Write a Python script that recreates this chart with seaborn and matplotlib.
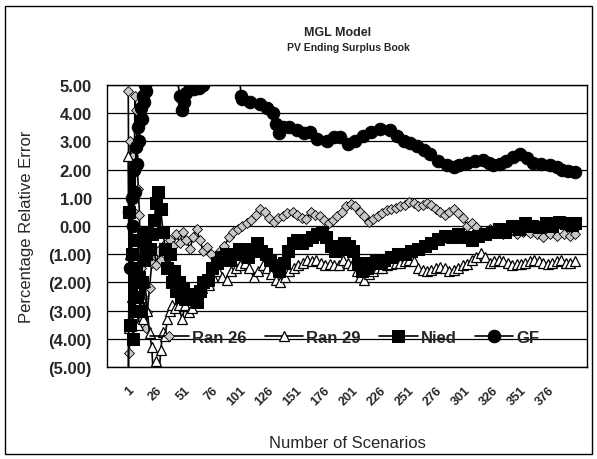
import matplotlib
matplotlib.use("Agg")
import matplotlib.pyplot as plt
import matplotlib.patches as mpatches
import pandas as pd
import seaborn as sns

# values (scenario number, percentage relative error)
ran26_x = [1, 2, 3, 4, 5, 6, 7, 8, 9, 10, 11, 12, 13, 14, 15, 16, 17, 18, 20, 22,
           24, 26, 28, 30, 32, 35, 38, 41, 44, 47, 50, 53, 56, 59, 62, 65, 68, 71, 75, 79,
           83, 87, 91, 95, 99, 103, 107, 111, 115, 119, 123, 127, 131, 135, 139, 143, 148, 152, 156, 160,
           164, 168, 172, 176, 180, 184, 188, 192, 196, 200, 204, 208, 212, 216, 220, 224, 228, 232, 236, 240,
           244, 248, 252, 256, 260, 264, 268, 272, 276, 280, 284, 288, 292, 296, 300, 304, 308, 312, 316, 320,
           324, 330, 336, 342, 348, 354, 360, 366, 372, 378, 384, 390, 396, 400]
ran26_y = [4.8, -4.5, 3.0, -1.5, 2.5, 0.5, 4.6, 4.1, 2.2, 1.3, 0.4, -1.5, -0.5, -2.5, -1.2, -3.0, -3.6, -3.05, -2.2, -1.3,
           -0.8, -1.4, -0.9, -1.2, -0.7, -0.9, -0.5, -0.7, -0.3, -0.6, -0.2, -0.5, -0.8, -0.4, -0.1, -0.5, -0.9, -0.75, -1.0, -1.2,
           -0.9, -0.7, -0.4, -0.2, -0.1, 0.0, 0.1, 0.2, 0.4, 0.6, 0.5, 0.3, 0.15, 0.3, 0.35, 0.45, 0.5, 0.4, 0.3, 0.25,
           0.5, 0.4, 0.35, 0.2, 0.1, 0.2, 0.35, 0.5, 0.7, 0.78, 0.7, 0.5, 0.35, 0.15, 0.25, 0.35, 0.45, 0.55, 0.6, 0.65,
           0.7, 0.75, 0.85, 0.8, 0.7, 0.75, 0.8, 0.75, 0.6, 0.5, 0.4, 0.5, 0.6, 0.45, 0.3, 0.0, 0.1, -0.05, -0.2, -0.25,
           -0.1, -0.2, -0.3, -0.2, -0.3, -0.2, -0.25, -0.3, -0.4, -0.3, -0.35, -0.3, -0.35, -0.3]

ran29_x = [1, 2, 3, 4, 5, 6, 7, 8, 9, 10, 12, 14, 16, 18, 20, 22, 24, 26, 28, 30,
           32, 34, 36, 38, 40, 43, 46, 49, 52, 55, 58, 61, 64, 67, 70, 73, 77, 81, 85, 89,
           93, 97, 101, 105, 109, 113, 117, 121, 125, 129, 133, 137, 141, 145, 149, 153, 157, 161, 165, 169,
           173, 177, 181, 185, 189, 193, 197, 201, 205, 208, 212, 216, 220, 224, 228, 232, 236, 240, 244, 248,
           252, 256, 260, 264, 268, 272, 276, 280, 284, 288, 292, 296, 300, 304, 308, 312, 316, 320, 324, 328,
           332, 336, 340, 344, 348, 352, 356, 360, 364, 368, 372, 376, 380, 384, 388, 392, 396, 400]
ran29_y = [2.5, -3.6, -1.0, -2.5, -1.5, -3.0, -2.0, -1.2, -2.8, -3.5, -2.5, -3.3, -2.0, -3.0, -3.8, -4.3, -5.8, -4.8, -5.6, -4.4,
           -3.75, -3.9, -3.3, -3.0, -2.8, -2.9, -2.8, -3.3, -2.8, -3.05, -2.9, -2.6, -2.35, -2.2, -2.0, -2.1, -1.8, -1.6, -1.8, -1.9,
           -1.6, -1.5, -1.4, -1.3, -1.5, -1.8, -1.6, -1.4, -1.5, -1.7, -1.9, -2.0, -1.8, -1.6, -1.5, -1.4, -1.3, -1.2, -1.25, -1.2,
           -1.3, -1.4, -1.35, -1.4, -1.4, -1.2, -1.3, -1.4, -1.6, -1.8, -1.9, -1.7, -1.6, -1.5, -1.5, -1.4, -1.35, -1.3, -1.3, -1.25,
           -1.2, -1.25, -1.5, -1.55, -1.6, -1.55, -1.5, -1.45, -1.5, -1.6, -1.55, -1.5, -1.4, -1.35, -1.2, -1.1, -0.95, -1.1, -1.3, -1.25,
           -1.2, -1.25, -1.3, -1.4, -1.35, -1.35, -1.3, -1.25, -1.2, -1.25, -1.3, -1.35, -1.3, -1.25, -1.2, -1.3, -1.3, -1.25]

nied_x = [1, 2, 3, 4, 5, 6, 7, 8, 9, 10, 11, 12, 13, 14, 15, 16, 17, 18, 20, 22,
          24, 26, 28, 30, 32, 34, 36, 38, 40, 42, 44, 46, 48, 50, 52, 55, 58, 62, 65, 68,
          72, 76, 80, 84, 88, 92, 96, 100, 104, 108, 112, 116, 120, 124, 128, 132, 136, 140, 144, 148,
          152, 156, 160, 165, 170, 174, 178, 182, 186, 190, 194, 198, 202, 206, 210, 214, 218, 222, 226, 230,
          236, 242, 248, 254, 260, 266, 272, 278, 284, 290, 296, 302, 308, 314, 320, 326, 332, 338, 344, 350,
          356, 362, 368, 374, 380, 386, 392, 398, 400]
nied_y = [-6.5, 0.5, -3.5, -1.0, -4.0, -2.0, -3.0, -1.5, -2.5, -0.5, -1.8, -3.0, -2.0, -0.3, -1.2, -0.5, -1.0, -0.2, -0.8, -0.3,
          0.2, 0.8, 1.2, 0.6, -0.2, -0.8, -1.5, -1.0, -2.0, -1.6, -2.3, -2.0, -2.5, -2.2, -2.6, -2.4, -2.5, -2.7, -2.3, -2.0,
          -1.9, -1.5, -1.3, -1.1, -1.0, -1.2, -1.0, -0.8, -0.9, -1.1, -0.8, -0.6, -0.9, -1.0, -1.2, -1.4, -1.6, -1.3, -0.9, -0.6,
          -0.5, -0.6, -0.5, -0.4, -0.3, -0.2, -0.4, -0.7, -0.9, -0.8, -0.6, -0.7, -0.9, -1.3, -1.6, -1.5, -1.3, -1.2, -1.3, -1.2,
          -1.1, -1.0, -1.0, -0.9, -0.8, -0.7, -0.6, -0.45, -0.35, -0.4, -0.3, -0.4, -0.5, -0.35, -0.3, -0.2, -0.1, -0.2, 0.0, -0.1,
          0.1, 0.0, -0.05, 0.1, 0.0, 0.15, 0.1, 0.05, 0.1]

gf_x = [1, 2, 3, 4, 5, 6, 7, 8, 9, 10, 11, 12, 13, 14, 15, 16, 17, 18, 20, 30,
        40, 45, 47, 49, 51, 53, 56, 60, 64, 68, 70, 80, 90, 100, 102, 103, 110, 119, 125, 130,
        133, 136, 139, 145, 152, 158, 163, 170, 179, 185, 190, 197, 204, 211, 218, 226, 235, 241, 247, 253,
        259, 265, 271, 278, 286, 292, 297, 304, 311, 318, 323, 327, 333, 339, 345, 351, 357, 363, 370, 378,
        384, 389, 394, 400]
gf_y = [-6.0, 0.5, -1.5, 1.0, 0.0, 2.0, 1.2, 2.8, 2.2, 3.5, 3.0, 4.2, 3.8, 4.6, 4.4, 5.0, 4.8, 5.6, 6.5, 7.0,
        6.2, 5.2, 4.6, 4.1, 4.4, 4.7, 4.9, 4.85, 4.9, 5.0, 5.4, 6.0, 5.8, 5.4, 4.6, 4.5, 4.4, 4.33, 4.2, 4.0,
        3.6, 3.3, 3.5, 3.5, 3.4, 3.3, 3.35, 3.1, 3.0, 3.15, 3.15, 2.9, 3.0, 3.2, 3.35, 3.45, 3.4, 3.2, 3.0, 2.95,
        2.85, 2.7, 2.55, 2.3, 2.15, 2.1, 2.15, 2.25, 2.3, 2.35, 2.25, 2.15, 2.2, 2.3, 2.45, 2.55, 2.4, 2.25, 2.2, 2.15,
        2.1, 2.0, 1.95, 1.9]

y_ticks = [5, 4, 3, 2, 1, 0, -1, -2, -3, -4, -5]
x_ticks = list(range(1, 377, 25))


def fmt_val(v):
    # accounting style: negatives in brackets
    return "({:.2f})".format(abs(v)) if v < 0 else "{:.2f}".format(v)


sns.set_style("white")
plt.rcParams['font.family'] = ['Liberation Sans', 'DejaVu Sans']

fig = plt.figure(figsize=(5.97, 4.60), dpi=100)
ax = fig.add_axes([107 / 597, 1 - 368 / 460, 480 / 597, 282 / 460])

series = [
    ("Ran 26", ran26_x, ran26_y, dict(marker="D", markersize=5.5, markerfacecolor="#c8c8c8", markeredgecolor="black", markeredgewidth=0.6)),
    ("Ran 29", ran29_x, ran29_y, dict(marker="^", markersize=7, markerfacecolor="white", markeredgecolor="black", markeredgewidth=0.9)),
    ("Nied", nied_x, nied_y, dict(marker="s", markersize=8, markerfacecolor="black", markeredgecolor="black")),
    ("GF", gf_x, gf_y, dict(marker="o", markersize=9, markerfacecolor="black", markeredgecolor="black")),
]

for name, xs, ys, style in series:
    df = pd.DataFrame({"scenario": xs, "error": ys})
    sns.lineplot(data=df, x="scenario", y="error", ax=ax, color="black", linewidth=1.2,
                 estimator=None, sort=False, label=name, **style)

ax.set_xlim(-18, 411)
ax.set_ylim(-5, 5)
ax.set_yticks(y_ticks)
ax.set_yticklabels([fmt_val(v) for v in y_ticks], fontsize=12, fontweight="bold")
ax.set_xticks(x_ticks)
ax.set_xticklabels([str(v) for v in x_ticks], rotation=45, ha="right", rotation_mode="anchor",
                   fontsize=9, fontweight="bold")
ax.tick_params(axis="both", length=0)
ax.tick_params(axis="y", pad=11)
ax.tick_params(axis="x", pad=12)
ax.yaxis.grid(True, color="black", linewidth=0.9)
ax.xaxis.grid(False)
for sp in ax.spines.values():
    sp.set_color("black")
    sp.set_linewidth(1.0)

ax.set_xlabel("Number of Scenarios", fontsize=12, family=["Liberation Sans Narrow", "Liberation Sans"], labelpad=20)
ax.set_ylabel("Percentage Relative Error", fontsize=12, family=["Liberation Sans Narrow", "Liberation Sans"], labelpad=10)

leg = ax.legend(loc="center left", bbox_to_anchor=(0.09, 0.106), ncol=4, frameon=False,
                handlelength=2.3, columnspacing=1.1, handletextpad=0.2, borderpad=0.0, borderaxespad=0.0,
                prop={"weight": "bold", "size": 12})

fig.text(0.565, 1 - 33 / 460, "MGL Model", ha="center", va="center", fontsize=9, fontweight="bold")
fig.text(0.583, 1 - 48 / 460, "PV Ending Surplus Book", ha="center", va="center", fontsize=7.5, fontweight="bold")

# outer chart border
fig.patches.append(mpatches.Rectangle((0.008, 0.01), 0.984, 0.975, transform=fig.transFigure,
                                      fill=False, edgecolor="black", linewidth=1.0))

fig.savefig("out.png", dpi=100)
plt.close(fig)
